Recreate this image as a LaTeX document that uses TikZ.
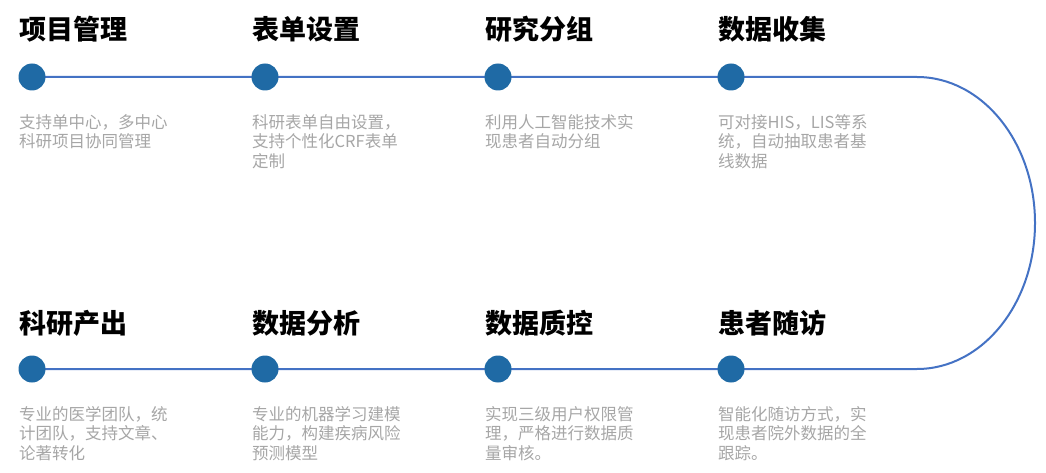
\documentclass[tikz,border=0pt]{standalone}
\usepackage{fontspec}
\setmainfont{Noto Sans CJK SC}
\usetikzlibrary{backgrounds}
\definecolor{dotblue}{HTML}{1F6AA5}
\definecolor{lineblue}{HTML}{4472C4}
\definecolor{descgray}{HTML}{A6A6A6}
\tikzset{
  dot/.style={circle, fill=dotblue, minimum size=27pt, inner sep=0pt},
  steptitle/.style={anchor=base west, inner sep=0pt, font=\fontsize{27}{27}\selectfont\bfseries},
  stepdesc/.style={anchor=north west, inner sep=0pt, align=left, text=descgray,
    font=\fontsize{16.5}{19.7}\selectfont},
  track/.style={lineblue, line width=2pt},
}

\begin{document}
\begin{tikzpicture}[x=1pt,y=-1pt]
  \useasboundingbox (0,0) rectangle (1046,473);
  \pgfmathsetmacro{\colw}{233}

  % upper row
  \foreach \i/\t/\d in {1/项目管理/{支持单中心，多中心\\科研项目协同管理},
                        2/表单设置/{科研表单自由设置，\\支持个性化CRF表单\\定制},
                        3/研究分组/{利用人工智能技术实\\现患者自动分组},
                        4/数据收集/{可对接HIS，LIS等系\\统，自动抽取患者基\\线数据}}{
    \pgfmathsetmacro{\xc}{19+\colw*(\i-1)}
    \node[steptitle] (ut\i) at (\xc,40) {\t};
    \node[dot] (ud\i) at (\xc+13,77) {};
    \node[stepdesc] (us\i) at (\xc,114) {\d};
  };

  % lower row
  \foreach \i/\t/\d in {1/科研产出/{专业的医学团队，统\\计团队，支持文章、\\论著转化},
                        2/数据分析/{专业的机器学习建模\\能力，构建疾病风险\\预测模型},
                        3/数据质控/{实现三级用户权限管\\理，严格进行数据质\\量审核。},
                        4/患者随访/{智能化随访方式，实\\现患者院外数据的全\\跟踪。}}{
    \pgfmathsetmacro{\xc}{19+\colw*(\i-1)}
    \node[steptitle] (lt\i) at (\xc,333) {\t};
    \node[dot] (ld\i) at (\xc+13,369) {};
    \node[stepdesc] (ls\i) at (\xc,406) {\d};
  };

  \begin{pgfonlayer}{background}
    \draw[track] (ud1.center) -- (ud4.center) -- ++(186,0) coordinate (turn)
      arc[start angle=-90, end angle=90, x radius=118, y radius=146]
      -- (ld4.center) -- (ld1.center);
  \end{pgfonlayer}
\end{tikzpicture}
\end{document}
